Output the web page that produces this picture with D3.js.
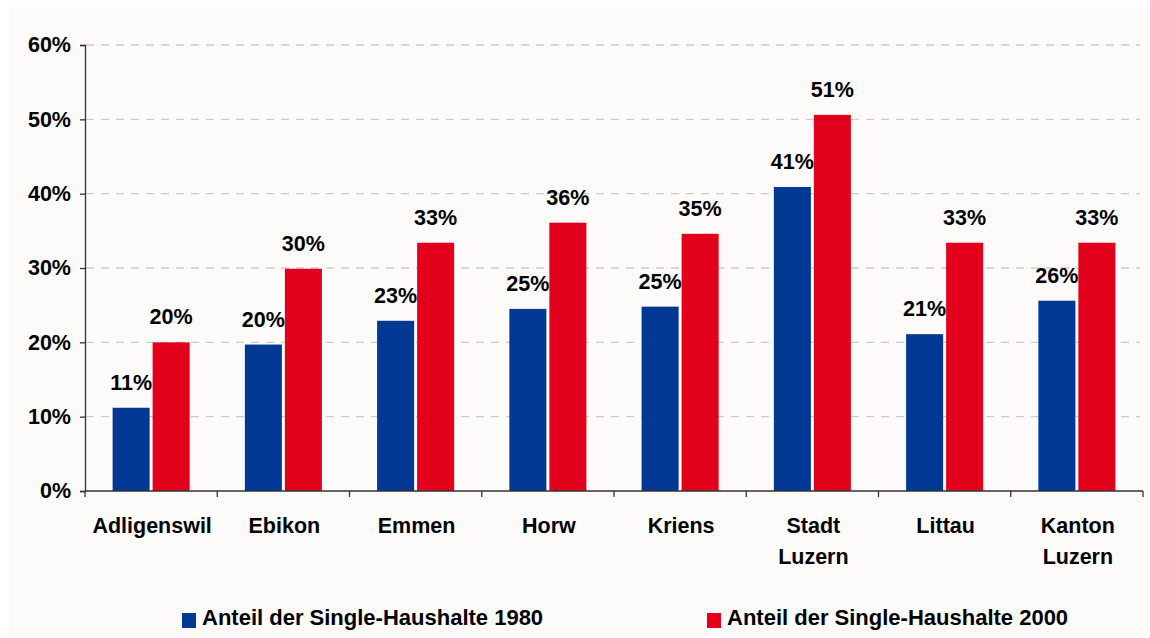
<!DOCTYPE html>
<html>
<head>
<meta charset="utf-8">
<script src="https://cdn.jsdelivr.net/npm/d3@7"></script>
<style>
  html, body { margin: 0; padding: 0; background: #ffffff; }
  svg { display: block; }
  text { font-family: "Liberation Sans", Arial, sans-serif; font-weight: bold; fill: #000; }
</style>
</head>
<body>
<svg id="chart" width="1150" height="638"></svg>
<script>
const categories = ["Adligenswil", "Ebikon", "Emmen", "Horw", "Kriens", "Stadt\nLuzern", "Littau", "Kanton\nLuzern"];
const seriesNames = ["Anteil der Single-Haushalte 1980", "Anteil der Single-Haushalte 2000"];
const values1980 = [11.2, 19.7, 22.9, 24.5, 24.8, 40.9, 21.1, 25.6];
const values2000 = [20.0, 29.9, 33.4, 36.1, 34.6, 50.6, 33.4, 33.4];
const yTicks = [0, 10, 20, 30, 40, 50, 60];
const colors = ["#003893", "#e3001b"];

const svg = d3.select("#chart");
const W = 1150, H = 638;
const m = { left: 85, right: 7, top: 45, bottom: 147 };
const FS = 21.5;

svg.append("rect").attr("x", 9).attr("y", 7).attr("width", W - 9).attr("height", H - 7).attr("fill", "#fcfbf9");

const x0 = d3.scaleBand().domain(categories).range([m.left, W - m.right]).paddingInner(0).paddingOuter(0);
const x1 = d3.scaleBand().domain([0, 1]).range([0, x0.bandwidth()]).paddingInner(0.075).paddingOuter(0.69);
const y = d3.scaleLinear().domain([0, 60]).range([H - m.bottom, m.top]);

// gridlines
svg.append("g").selectAll("line").data(yTicks.filter(d => d > 0)).join("line")
  .attr("x1", m.left + 1).attr("x2", W - 10)
  .attr("y1", d => y(d)).attr("y2", d => y(d))
  .attr("stroke", "#cccccc").attr("stroke-width", 1.3).attr("stroke-dasharray", "8,7");

const data = categories.map((c, i) => ({ c, v: [values1980[i], values2000[i]] }));

const groups = svg.append("g").selectAll("g").data(data).join("g")
  .attr("transform", d => `translate(${x0(d.c)},0)`);

groups.selectAll("rect").data(d => d.v.map((v, k) => ({ v, k }))).join("rect")
  .attr("x", d => x1(d.k)).attr("width", x1.bandwidth())
  .attr("y", d => y(d.v)).attr("height", d => y(0) - y(d.v))
  .attr("fill", d => colors[d.k]);

groups.selectAll("text.lbl").data(d => d.v.map((v, k) => ({ v, k }))).join("text")
  .attr("class", "lbl")
  .attr("x", d => x1(d.k) + x1.bandwidth() / 2)
  .attr("y", d => y(d.v) - 18)
  .attr("text-anchor", "middle")
  .attr("font-size", FS)
  .text(d => Math.round(d.v) + "%");

// y axis
const yAxis = d3.axisLeft(y).tickValues(yTicks).tickFormat(d => d + "%").tickSize(5).tickPadding(9);
const gy = svg.append("g").attr("transform", `translate(${m.left},0)`).call(yAxis);
gy.select(".domain").attr("stroke", "#333").attr("stroke-width", 1.3);
gy.selectAll(".tick line").attr("stroke", "#333").attr("stroke-width", 1.3);
gy.selectAll(".tick text").attr("font-size", FS).attr("font-family", "'Liberation Sans', Arial, sans-serif").attr("font-weight", "bold").attr("fill", "#000");

// x axis
const gx = svg.append("g").attr("transform", `translate(0,${y(0)})`);
gx.append("line").attr("x1", m.left).attr("x2", W - m.right).attr("y1", 0).attr("y2", 0).attr("stroke", "#333").attr("stroke-width", 1.3);
const bounds = categories.map(c => x0(c)).concat([x0(categories[categories.length - 1]) + x0.bandwidth()]);
gx.selectAll("line.tk").data(bounds).join("line").attr("class", "tk")
  .attr("x1", d => d).attr("x2", d => d).attr("y1", 0).attr("y2", 6)
  .attr("stroke", "#333").attr("stroke-width", 1.3);
gx.selectAll("text.cat").data(categories).join("text").attr("class", "cat")
  .attr("x", d => x0(d) + x0.bandwidth() / 2 + 1)
  .attr("y", 42)
  .attr("text-anchor", "middle").attr("font-size", FS)
  .each(function(d) {
    const lines = d.split("\n");
    d3.select(this).selectAll("tspan").data(lines).join("tspan")
      .attr("x", d3.select(this).attr("x"))
      .attr("dy", (l, i) => i === 0 ? 0 : 31)
      .text(l => l);
  });

// legend
const legendX = [182, 707];
const lg = svg.append("g").selectAll("g").data(seriesNames).join("g")
  .attr("transform", (d, i) => `translate(${legendX[i]},613)`);
lg.append("rect").attr("width", 14).attr("height", 15).attr("fill", (d, i) => colors[i]);
lg.append("text").attr("x", 20).attr("y", 12).attr("font-size", 22).text(d => d);
</script>
</body>
</html>
